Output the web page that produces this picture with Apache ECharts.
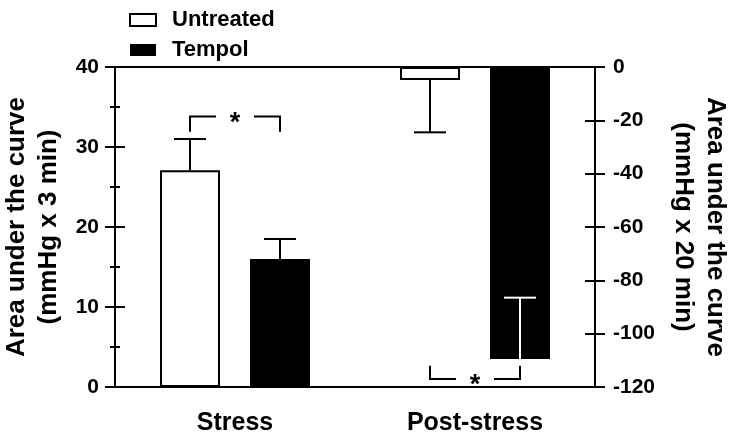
<!DOCTYPE html>
<html>
<head>
<meta charset="utf-8">
<script src="https://cdn.jsdelivr.net/npm/echarts@6/dist/echarts.min.js"></script>
<style>
  html, body { margin: 0; padding: 0; background: #fff; }
  #chart { width: 734px; height: 440px; }
</style>
</head>
<body>
<div id="chart"></div>
<script>
// Stress is read on the left axis, Post-stress on the right axis.
const categories = ['Stress', 'Post-stress']
const untreated = [27.1, -4.9]
const untreatedTip = [31.0, -24.5] // end of the error bar
const tempol = [16.0, -109.5]
const tempolTip = [18.5, -86.5]
// significance brackets: level of the horizontal line, level where the legs end
const sigLine = [33.8, -117]
const sigEnd = [31.9, -112]

const leftScale = { min: 0, max: 40, interval: 10 }
const rightScale = { min: -120, max: 0, interval: 20 }

const FONT = '"Liberation Sans", Arial, sans-serif'
const BAR_W = 60
const GAP = 30
const HALF = (BAR_W + GAP) / 2

function barSeries(name, values, stack, style) {
  return categories.map((c, i) => ({
    name,
    type: 'bar',
    stack,
    yAxisIndex: i,
    barWidth: BAR_W,
    barGap: (GAP / BAR_W) * 100 + '%',
    itemStyle: style,
    silent: true,
    data: values.map((v, j) => (j === i ? v : '-')),
  }))
}

function errorSeries(i) {
  return {
    type: 'custom',
    yAxisIndex: i,
    z: 5,
    silent: true,
    data: [
      [i, untreated[i], untreatedTip[i], 0],
      [i, tempol[i], tempolTip[i], 1],
    ],
    renderItem: (params, api) => {
      const cat = api.value(0)
      const slot = api.value(3)
      const base = api.coord([cat, api.value(1)])
      const tip = api.coord([cat, api.value(2)])
      const x = base[0] + (slot === 0 ? -HALF : HALF)
      // inside the black bar the whisker is drawn white
      const inside = Math.abs(api.value(2)) < Math.abs(api.value(1))
      const color = inside && slot === 1 ? '#fff' : '#000'
      const st = { stroke: color, lineWidth: 2 }
      return {
        type: 'group',
        children: [
          { type: 'line', shape: { x1: x, y1: base[1], x2: x, y2: tip[1] }, style: st },
          { type: 'line', shape: { x1: x - 16, y1: tip[1], x2: x + 16, y2: tip[1] }, style: st },
        ],
      }
    },
  }
}

function bracketSeries(i) {
  return {
    type: 'custom',
    yAxisIndex: i,
    z: 6,
    silent: true,
    data: [[i, sigLine[i], sigEnd[i]]],
    renderItem: (params, api) => {
      const cat = api.value(0)
      const c = api.coord([cat, api.value(1)])
      const yEnd = api.coord([cat, api.value(2)])[1]
      const y = c[1]
      const lx = c[0] - HALF
      const rx = c[0] + HALF
      const st = { stroke: '#000', lineWidth: 2, fill: 'none' }
      return {
        type: 'group',
        children: [
          { type: 'polyline', shape: { points: [[lx, yEnd], [lx, y], [c[0] - 19, y]] }, style: st },
          { type: 'polyline', shape: { points: [[c[0] + 19, y], [rx, y], [rx, yEnd]] }, style: st },
          {
            type: 'text',
            x: c[0],
            y: y + 7,
            style: {
              text: '*',
              font: 'bold 27px ' + FONT,
              fill: '#000',
              align: 'center',
              verticalAlign: 'middle',
            },
          },
        ],
      }
    },
  }
}

const lineStyle = { color: '#000', width: 2 }
const labelStyle = { color: '#000', fontFamily: FONT, fontWeight: 'bold', fontSize: 21 }
const nameStyle = { color: '#000', fontFamily: FONT, fontWeight: 'bold', fontSize: 26, lineHeight: 32 }

const chart = echarts.init(document.getElementById('chart'), null, { renderer: 'canvas' })

chart.setOption({
  animation: false,
  backgroundColor: '#fff',
  grid: { left: 115, right: 139, top: 67, bottom: 53, containLabel: false, outerBoundsMode: 'none' },
  legend: {
    data: ['Untreated', 'Tempol'],
    orient: 'vertical',
    left: 124,
    top: 4,
    icon: 'rect',
    itemWidth: 26,
    itemHeight: 12,
    itemGap: 8,
    selectedMode: false,
    textStyle: {
      color: '#000', fontFamily: FONT, fontWeight: 'bold', fontSize: 22,
      lineHeight: 22, padding: [0, 0, 0, 11],
    },
  },
  xAxis: [
    {
      type: 'category',
      data: categories,
      position: 'bottom',
      axisLine: { onZero: false, lineStyle },
      axisTick: { show: false },
      axisLabel: { ...labelStyle, fontSize: 25, margin: 24 },
    },
    {
      type: 'category',
      data: categories,
      position: 'top',
      axisLine: { onZero: false, lineStyle },
      axisTick: { show: false },
      axisLabel: { show: false },
    },
  ],
  yAxis: [
    {
      type: 'value',
      position: 'left',
      ...leftScale,
      name: 'Area under the curve\n(mmHg x 3 min)',
      nameLocation: 'middle',
      nameGap: 45,
      nameTextStyle: nameStyle,
      axisLine: { show: true, lineStyle },
      axisTick: { show: true, length: 10, lineStyle },
      minorTick: { show: true, splitNumber: 2, length: 5, lineStyle },
      axisLabel: { ...labelStyle, margin: 16 },
      splitLine: { show: false },
    },
    {
      type: 'value',
      position: 'right',
      ...rightScale,
      name: 'Area under the curve\n(mmHg x 20 min)',
      nameLocation: 'middle',
      nameRotate: -90,
      nameGap: 72,
      nameTextStyle: nameStyle,
      axisLine: { show: true, lineStyle },
      axisTick: { show: true, length: 10, lineStyle },
      axisLabel: { ...labelStyle, margin: 18 },
      splitLine: { show: false },
    },
    // twins so the ticks cross the axis lines
    {
      type: 'value',
      position: 'left',
      ...leftScale,
      axisLine: { show: false },
      axisTick: { show: true, inside: true, length: 10, lineStyle },
      minorTick: { show: true, splitNumber: 2, length: 5, lineStyle },
      axisLabel: { show: false },
      splitLine: { show: false },
    },
    {
      type: 'value',
      position: 'right',
      ...rightScale,
      axisLine: { show: false },
      axisTick: { show: true, inside: true, length: 10, lineStyle },
      axisLabel: { show: false },
      splitLine: { show: false },
    },
  ],
  series: [
    ...barSeries('Untreated', untreated, 'u', { color: '#fff', borderColor: '#000', borderWidth: 2 }),
    ...barSeries('Tempol', tempol, 't', { color: '#000', borderColor: '#000', borderWidth: 0 }),
    errorSeries(0),
    errorSeries(1),
    bracketSeries(0),
    bracketSeries(1),
  ],
})
</script>
</body>
</html>
